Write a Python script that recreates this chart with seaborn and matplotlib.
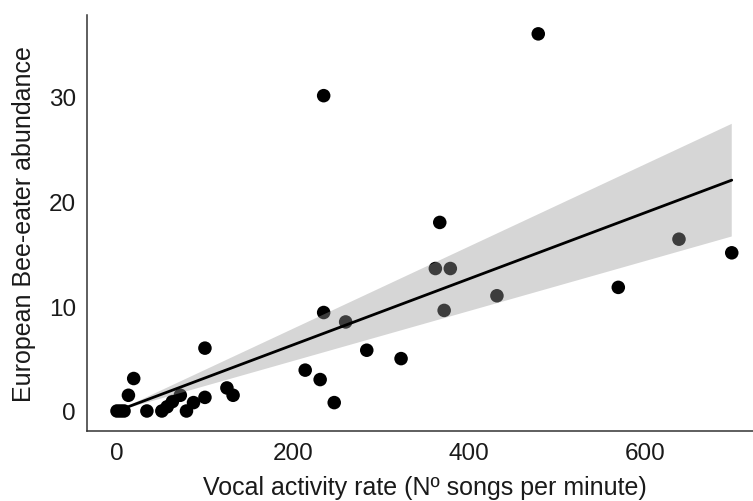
import matplotlib
matplotlib.use("Agg")
import matplotlib.pyplot as plt
import seaborn as sns
import numpy as np
import pandas as pd

# Data
vocal_rate = [0, 4, 8, 13, 19, 34, 51, 57, 63, 72, 79, 87, 100, 100, 125, 132,
              214, 231, 235, 235, 247, 260, 284, 323, 362, 367, 372, 379, 432,
              479, 570, 639, 699]
abundance = [0, 0, 0, 1.5, 3.1, 0, 0, 0.4, 0.9, 1.5, 0, 0.8, 1.3, 6.0, 2.2, 1.5,
             3.9, 3.0, 9.4, 30.1, 0.8, 8.5, 5.8, 5.0, 13.6, 18.0, 9.6, 13.6, 11.0,
             36.0, 11.8, 16.4, 15.1]
x_ticks = [0, 200, 400, 600]
y_ticks = [0, 10, 20, 30]
x_title = "Vocal activity rate (Nº songs per minute)"
y_title = "European Bee-eater abundance"

df = pd.DataFrame({"rate": vocal_rate, "abund": abundance})

sns.set_style("white")
plt.rcParams['font.family'] = ['Liberation Sans', 'DejaVu Sans']

fig = plt.figure(figsize=(7.53, 5.02), dpi=100)
# panel runs slightly past the right edge of the figure (cropped, as in the reference)
ax = fig.add_axes([87/753, 70/502, (762-87)/753, (432-16)/502])

sns.scatterplot(data=df, x="rate", y="abund", ax=ax, color="black", s=95,
                edgecolor="none", zorder=2, legend=False)

# Linear fit through the origin (y ~ 0 + x) with its 95% confidence band
x = np.asarray(vocal_rate, float)
y = np.asarray(abundance, float)
n = len(x)
sxx0 = np.sum(x**2)
slope = np.sum(x * y) / sxx0
resid = y - slope * x
s = np.sqrt(np.sum(resid**2) / (n - 1))
t_crit = 2.0369  # t quantile 0.975, df = 32
grid = np.linspace(x.min(), x.max(), 200)
fit = slope * grid
half = t_crit * s * np.abs(grid) / np.sqrt(sxx0)
fit_df = pd.DataFrame({"rate": grid, "fit": fit})

ax.fill_between(grid, fit - half, fit + half, facecolor="#999999", alpha=0.4,
                edgecolor="none", zorder=4)
sns.lineplot(data=fit_df, x="rate", y="fit", ax=ax, color="black", lw=2.0,
             zorder=5, legend=False)

ax.set_xlim(-34.1, 733.4)
ax.set_ylim(-1.91, 37.8)
ax.set_xticks(x_ticks)
ax.set_yticks(y_ticks)
ax.set_xlabel(x_title, fontsize=18, color="#1a1a1a", labelpad=8)
ax.set_ylabel(y_title, fontsize=18, color="#1a1a1a", labelpad=9)
ax.tick_params(axis="both", labelsize=17.5, colors="#333333", labelcolor="#1a1a1a",
               length=5, width=1, direction="out", pad=3)
for side in ["top", "right"]:
    ax.spines[side].set_visible(False)
for side in ["left", "bottom"]:
    ax.spines[side].set_color("#333333")
    ax.spines[side].set_linewidth(1.1)

fig.savefig("out.png", dpi=100)
